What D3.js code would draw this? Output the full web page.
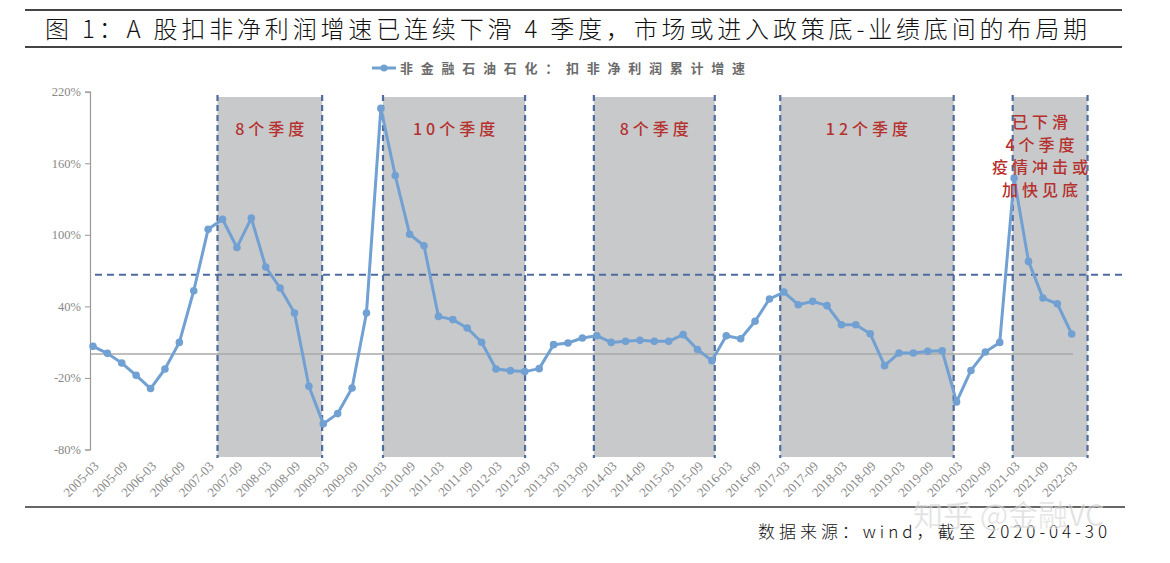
<!DOCTYPE html>
<html><head><meta charset="utf-8">
<script src="https://cdn.jsdelivr.net/npm/d3@7"></script>
<style>body{margin:0;background:#fff}svg{display:block}</style>
</head><body>
<script>
const categories = ["2005-03","2005-06","2005-09","2005-12","2006-03","2006-06","2006-09","2006-12",
"2007-03","2007-06","2007-09","2007-12","2008-03","2008-06","2008-09","2008-12",
"2009-03","2009-06","2009-09","2009-12","2010-03","2010-06","2010-09","2010-12",
"2011-03","2011-06","2011-09","2011-12","2012-03","2012-06","2012-09","2012-12",
"2013-03","2013-06","2013-09","2013-12","2014-03","2014-06","2014-09","2014-12",
"2015-03","2015-06","2015-09","2015-12","2016-03","2016-06","2016-09","2016-12",
"2017-03","2017-06","2017-09","2017-12","2018-03","2018-06","2018-09","2018-12",
"2019-03","2019-06","2019-09","2019-12","2020-03","2020-06","2020-09","2020-12",
"2021-03","2021-06","2021-09","2021-12","2022-03"];
const growth = [6.5,0.6,-7.5,-17.8,-28.9,-12.5,9.8,53.1,
104.7,113.1,89.4,114.0,73.0,55.4,34.4,-27.0,
-58.5,-49.9,-28.4,34.4,206.0,149.7,100.5,90.8,
31.6,28.9,21.9,9.9,-12.5,-13.9,-14.7,-12.2,
7.9,9.3,13.5,15.4,9.8,10.7,11.5,10.7,
10.7,16.3,3.8,-5.5,15.4,12.9,27.5,46.2,
52.0,41.4,44.2,40.6,24.6,24.6,17.1,-9.7,
0.9,0.9,2.3,2.8,-40.1,-13.7,1.8,9.8,
147.5,77.7,47.0,42.2,16.9];
const tickLabels = ["2005-03","2005-09","2006-03","2006-09","2007-03","2007-09","2008-03","2008-09",
"2009-03","2009-09","2010-03","2010-09","2011-03","2011-09","2012-03","2012-09","2013-03","2013-09",
"2014-03","2014-09","2015-03","2015-09","2016-03","2016-09","2017-03","2017-09","2018-03","2018-09",
"2019-03","2019-09","2020-03","2020-09","2021-03","2021-09","2022-03"];
const yTicks = [-80,-20,40,100,160,220];
const refLevel = 66.5;
// shaded periods, bounds in category-index units
const periodStart = [8.65,20.15,34.8,47.75,63.9];
const periodEnd   = [15.92,30.02,43.2,59.8,69.1];
const periodLabels = [["8个季度"],["10个季度"],["8个季度"],["12个季度"],["已下滑","4个季度","疫情冲击或","加快见底"]];
const seriesName = "非金融石油石化：扣非净利润累计增速";
const titleText = "图 1：A 股扣非净利润增速已连续下滑 4 季度，市场或进入政策底-业绩底间的布局期";
const sourceText = "数据来源：wind，截至 2020-04-30";

const W=1170,H=563;
const svg=d3.select("body").append("svg").attr("width",W).attr("height",H);
svg.append("rect").attr("width",W).attr("height",H).attr("fill","#fff");

const x=d3.scaleLinear().domain([0,categories.length-1]).range([93,1071.7]);
const y=d3.scaleLinear().domain([-80,220]).range([449.5,91.7]);
const idx=c=>categories.indexOf(c);
const lineC="#71A0D3";

// title
svg.append("line").attr("x1",25).attr("x2",1122).attr("y1",10).attr("y2",10).attr("stroke","#444").attr("stroke-width",2);
svg.append("line").attr("x1",25).attr("x2",1122).attr("y1",47).attr("y2",47).attr("stroke","#444").attr("stroke-width",2);
svg.append("text").attr("x",45).attr("y",38).attr("font-family","'Noto Sans CJK SC'").attr("font-size",24)
  .attr("font-weight",300).attr("fill","#111").attr("textLength",1042).attr("lengthAdjust","spacing").text(titleText);

// legend
svg.append("line").attr("x1",372).attr("x2",396).attr("y1",68).attr("y2",68).attr("stroke",lineC).attr("stroke-width",3);
svg.append("circle").attr("cx",384).attr("cy",68).attr("r",3.5).attr("fill",lineC);
svg.append("text").attr("x",400).attr("y",73).attr("font-family","'Noto Sans CJK SC'").attr("font-size",13)
  .attr("font-weight",700).attr("fill","#6b6b6b").attr("textLength",345).attr("lengthAdjust","spacing").text(seriesName);

// shaded periods
const periods=periodStart.map((s,i)=>({s,e:periodEnd[i],lab:periodLabels[i]}));
svg.selectAll("rect.p").data(periods).join("rect").attr("class","p")
  .attr("x",d=>x(d.s)).attr("width",d=>x(d.e)-x(d.s)).attr("y",97).attr("height",360).attr("fill","#C8C9CB");

// zero line
svg.append("line").attr("x1",90).attr("x2",1073).attr("y1",y(0)).attr("y2",y(0)).attr("stroke","#A8A8A8").attr("stroke-width",1.5);

// y axis
const ya=svg.append("g").attr("transform","translate(90,0)").call(d3.axisLeft(y).tickValues(yTicks).tickFormat(d=>d+"%").tickSize(5));
ya.select(".domain").attr("stroke","#999").attr("stroke-width",1.2);
ya.selectAll(".tick line").attr("stroke","#999");
ya.selectAll(".tick text").attr("font-family","'Liberation Serif'").attr("font-size",12.5).attr("fill","#888").attr("x",-9);

// x axis labels
const xa=svg.append("g").attr("transform","translate(0,455)")
  .call(d3.axisBottom(x).tickValues(tickLabels.map(idx)).tickFormat(i=>categories[i]).tickSize(0));
xa.select(".domain").remove();
xa.selectAll(".tick text").attr("font-family","'Liberation Serif'").attr("font-size",13).attr("fill","#888")
  .attr("text-anchor","end").attr("dy",0).attr("y",0).attr("transform","translate(6,12) rotate(-45)");

// dashed lines
const dashC="#4E6C9F";
svg.append("line").attr("x1",95).attr("x2",1122).attr("y1",y(refLevel)).attr("y2",y(refLevel))
  .attr("stroke",dashC).attr("stroke-width",2).attr("stroke-dasharray","7,5");
const edges=[];periods.forEach(p=>{edges.push(p.s);edges.push(p.e);});
svg.selectAll("line.v").data(edges).join("line").attr("class","v")
  .attr("x1",d=>x(d)).attr("x2",d=>x(d)).attr("y1",95).attr("y2",458)
  .attr("stroke",dashC).attr("stroke-width",2.2).attr("stroke-dasharray","6,4");

// series
const pts=growth.map((v,i)=>[i,v]);
svg.append("path").datum(pts).attr("fill","none").attr("stroke",lineC).attr("stroke-width",3)
  .attr("stroke-linejoin","round").attr("d",d3.line().x(d=>x(d[0])).y(d=>y(d[1])));
svg.selectAll("circle.pt").data(pts).join("circle").attr("class","pt")
  .attr("cx",d=>x(d[0])).attr("cy",d=>y(d[1])).attr("r",3.8).attr("fill",lineC);

// period labels
periods.forEach((p,i)=>{
  const multi=p.lab.length>1;
  const cx=multi?1040:(x(p.s)+x(p.e))/2;
  p.lab.forEach((t,j)=>{
    svg.append("text").attr("x",cx+2).attr("y",(multi?128:135)+j*22.5).attr("text-anchor","middle")
      .attr("font-family","'Noto Sans CJK SC'").attr("font-size",16).attr("font-weight",500)
      .attr("letter-spacing",4).attr("fill","#B5312E").text(t);
  });
});

// bottom rule and source
svg.append("line").attr("x1",25).attr("x2",1125).attr("y1",507).attr("y2",507).attr("stroke","#333").attr("stroke-width",1.5);
svg.append("text").attr("x",758).attr("y",538).attr("font-family","'Noto Sans CJK SC'").attr("font-size",17)
  .attr("font-weight",300).attr("fill","#111").attr("textLength",349).attr("lengthAdjust","spacing").text(sourceText);

// watermark
svg.append("text").attr("x",913).attr("y",526).attr("font-family","'Noto Sans CJK SC'").attr("font-size",30)
  .attr("fill","rgba(190,190,190,0.5)").attr("stroke","rgba(255,255,255,0.5)").attr("stroke-width",1).text("知乎 @金融VC");
</script>
</body></html>
